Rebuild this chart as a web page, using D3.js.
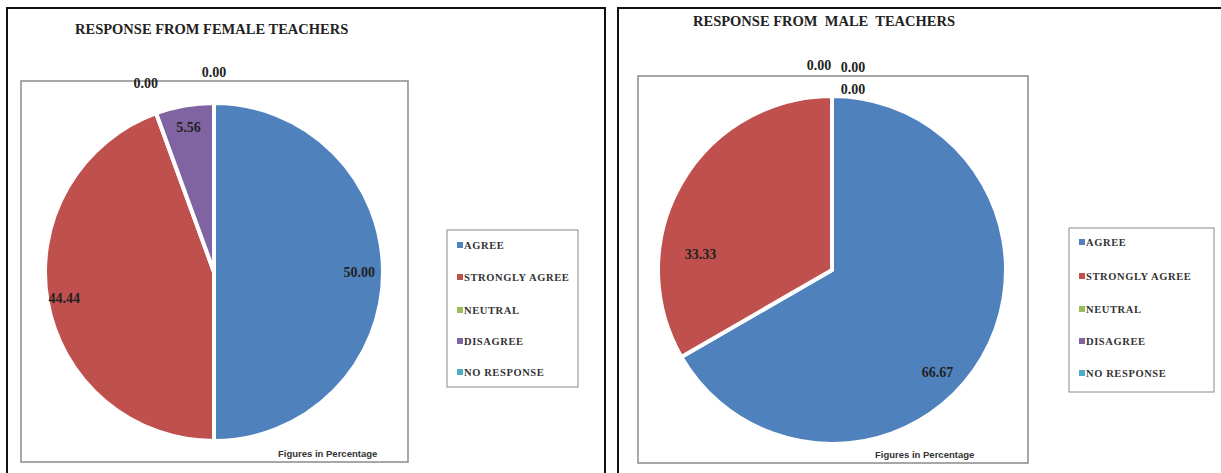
<!DOCTYPE html>
<html>
<head>
<meta charset="utf-8">
<script src="https://cdn.jsdelivr.net/npm/d3@7"></script>
<style>
  body { margin: 0; background: #fff; }
  svg { display: block; }
</style>
</head>
<body>
<svg id="chart" width="1221" height="473"></svg>
<script>
// data
const categories = ["AGREE", "STRONGLY AGREE", "NEUTRAL", "DISAGREE", "NO RESPONSE"];
const femaleValues = [50.00, 44.44, 0.00, 5.56, 0.00];
const maleValues = [66.67, 33.33, 0.00, 0.00, 0.00];
const titles = ["RESPONSE FROM FEMALE TEACHERS", "RESPONSE FROM  MALE  TEACHERS"];
const note = "Figures in Percentage";

const colors = d3.scaleOrdinal()
    .domain(categories)
    .range(["#4f81bd", "#c0504d", "#9bbb59", "#8064a2", "#4bacc6"]);

// layout for each panel
const panels = [
    {
        values: femaleValues, title: titles[0],
        box: { x: 7, y: 8, w: 598, h: 480 },
        titleX: 75, titleY: 34,
        plot: { x: 21, y: 81, w: 387, h: 381 },
        cx: 214, cy: 272, r: 169,
        labelK: [0.86, 0.9, 1.18, 0.87, 1.18],
        nudge: [[0, 0], [0, 0], [0, -2], [0, 0], [0, 0]],
        legend: { x: 447, y: 230, w: 131, h: 157, rowY: [245, 277, 310, 341, 372] },
        noteX: 278, noteY: 457
    },
    {
        values: maleValues, title: titles[1],
        box: { x: 618, y: 8, w: 610, h: 480 },
        titleX: 693, titleY: 26,
        plot: { x: 638, y: 76, w: 390, h: 387 },
        cx: 832, cy: 270, r: 174,
        labelK: [0.78, 0.78, 1.18, 1.18, 1.18],
        nudge: [[-12, 34], [-14, 52], [-13, 0], [21, 2], [21, 24]],
        legend: { x: 1069, y: 228, w: 145, h: 164, rowY: [242, 276, 309, 341, 373] },
        noteX: 875, noteY: 458
    }
];

const svg = d3.select("#chart");

const pie = d3.pie().sort(null).value(d => d.value);

panels.forEach(p => {
    const g = svg.append("g");

    // outer frame
    g.append("rect")
        .attr("x", p.box.x).attr("y", p.box.y)
        .attr("width", p.box.w).attr("height", p.box.h)
        .attr("fill", "#fff")
        .attr("stroke", "#111")
        .attr("stroke-width", 2);

    g.append("text")
        .attr("x", p.titleX).attr("y", p.titleY)
        .attr("font-family", "Liberation Serif, serif")
        .attr("font-weight", "bold")
        .attr("font-size", 14.5)
        .attr("fill", "#222")
        .style("white-space", "pre")
        .text(p.title);

    // plot area
    g.append("rect")
        .attr("x", p.plot.x).attr("y", p.plot.y)
        .attr("width", p.plot.w).attr("height", p.plot.h)
        .attr("fill", "#fff")
        .attr("stroke", "#8a8a8a")
        .attr("stroke-width", 1.5);

    const data = categories.map((c, i) => ({ cat: c, value: p.values[i] }));
    const arcs = pie(data);
    const arc = d3.arc().innerRadius(0).outerRadius(p.r);

    const pg = g.append("g").attr("transform", `translate(${p.cx},${p.cy})`);

    pg.selectAll("path")
        .data(arcs.filter(d => d.data.value > 0))
        .join("path")
        .attr("d", arc)
        .attr("fill", d => colors(d.data.cat))
        .attr("stroke", "#fff")
        .attr("stroke-width", 4)
        .attr("stroke-linejoin", "round");

    pg.selectAll("text")
        .data(arcs)
        .join("text")
        .attr("x", (d, i) => {
            const a = d.data.value > 0 ? (d.startAngle + d.endAngle) / 2 : d.startAngle;
            return Math.sin(a) * p.r * p.labelK[i] + p.nudge[i][0];
        })
        .attr("y", (d, i) => {
            const a = d.data.value > 0 ? (d.startAngle + d.endAngle) / 2 : d.startAngle;
            return -Math.cos(a) * p.r * p.labelK[i] + p.nudge[i][1];
        })
        .attr("dy", "0.35em")
        .attr("text-anchor", "middle")
        .attr("font-family", "Liberation Serif, serif")
        .attr("font-weight", "bold")
        .attr("font-size", 14)
        .attr("fill", "#222")
        .text(d => d3.format(".2f")(d.data.value));

    // legend
    const lg = g.append("g");
    lg.append("rect")
        .attr("x", p.legend.x).attr("y", p.legend.y)
        .attr("width", p.legend.w).attr("height", p.legend.h)
        .attr("fill", "#fff")
        .attr("stroke", "#8a8a8a")
        .attr("stroke-width", 1);

    const rows = lg.selectAll("g.row")
        .data(categories)
        .join("g")
        .attr("class", "row")
        .attr("transform", (d, i) => `translate(${p.legend.x + 10},${p.legend.rowY[i]})`);

    rows.append("rect")
        .attr("x", 0).attr("y", -3)
        .attr("width", 6).attr("height", 6)
        .attr("fill", d => colors(d));

    rows.append("text")
        .attr("x", 7).attr("dy", "0.35em")
        .attr("font-family", "Liberation Serif, serif")
        .attr("font-weight", "bold")
        .attr("font-size", 10.5)
        .attr("letter-spacing", 0.6)
        .attr("fill", "#333")
        .text(d => d);

    g.append("text")
        .attr("x", p.noteX).attr("y", p.noteY)
        .attr("font-family", "Liberation Sans, sans-serif")
        .attr("font-weight", "bold")
        .attr("font-size", 9.5)
        .attr("fill", "#333")
        .text(note);
});
</script>
</body>
</html>
